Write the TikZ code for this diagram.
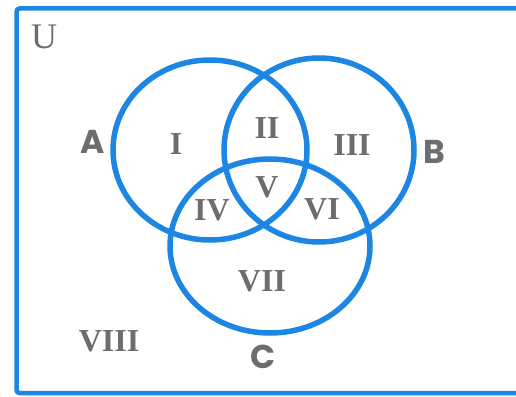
\documentclass[tikz,border=0pt]{standalone}
\usepackage{fontspec}
\setmainfont{Liberation Serif}
\newfontfamily\setfont{Poppins}
\definecolor{vennblue}{RGB}{28,134,226}
\definecolor{labelgray}{RGB}{108,109,111}
\tikzset{
  region/.style={text=labelgray, font=\fontsize{32}{32}\selectfont\bfseries},
  setname/.style={text=labelgray, font=\setfont\fontsize{33}{33}\selectfont\bfseries},
  setline/.style={draw=vennblue, line width=5.5pt},
}
\begin{document}
\begin{tikzpicture}[x=1pt,y=-1pt]
  \useasboundingbox (0,0) rectangle (516,396);
  \clip (0,0) rectangle (516,396);
  % universe
  \draw[vennblue, line width=4.5pt, rounded corners=3pt] (16.5,8.5) rectangle (540,393);
  \node[text=labelgray, font=\fontsize{36}{36}\selectfont] (u) at (44,37) {U};
  % the three sets
  \draw[setline] (210,150) ellipse [x radius=97, y radius=90];
  \draw[setline] (319,150) ellipse [x radius=95, y radius=92];
  \draw[setline] (270,246) ellipse [x radius=100, y radius=87];
  \node[setname] (a) at (93,142) {A};
  \node[setname] (b) at (434,152) {B};
  \node[setname] (c) at (263,357) {C};
  % regions
  \node[region] (r1) at (176,144) {I};
  \node[region] (r2) at (267,128) {II};
  \node[region] (r3) at (352,145) {III};
  \node[region] (r4) at (212,210) {IV};
  \node[region] (r5) at (267,187) {V};
  \node[region] (r6) at (322,209) {VI};
  \node[region] (r7) at (262,281) {VII};
  \node[region] (r8) at (109,341) {VIII};
\end{tikzpicture}
\end{document}
